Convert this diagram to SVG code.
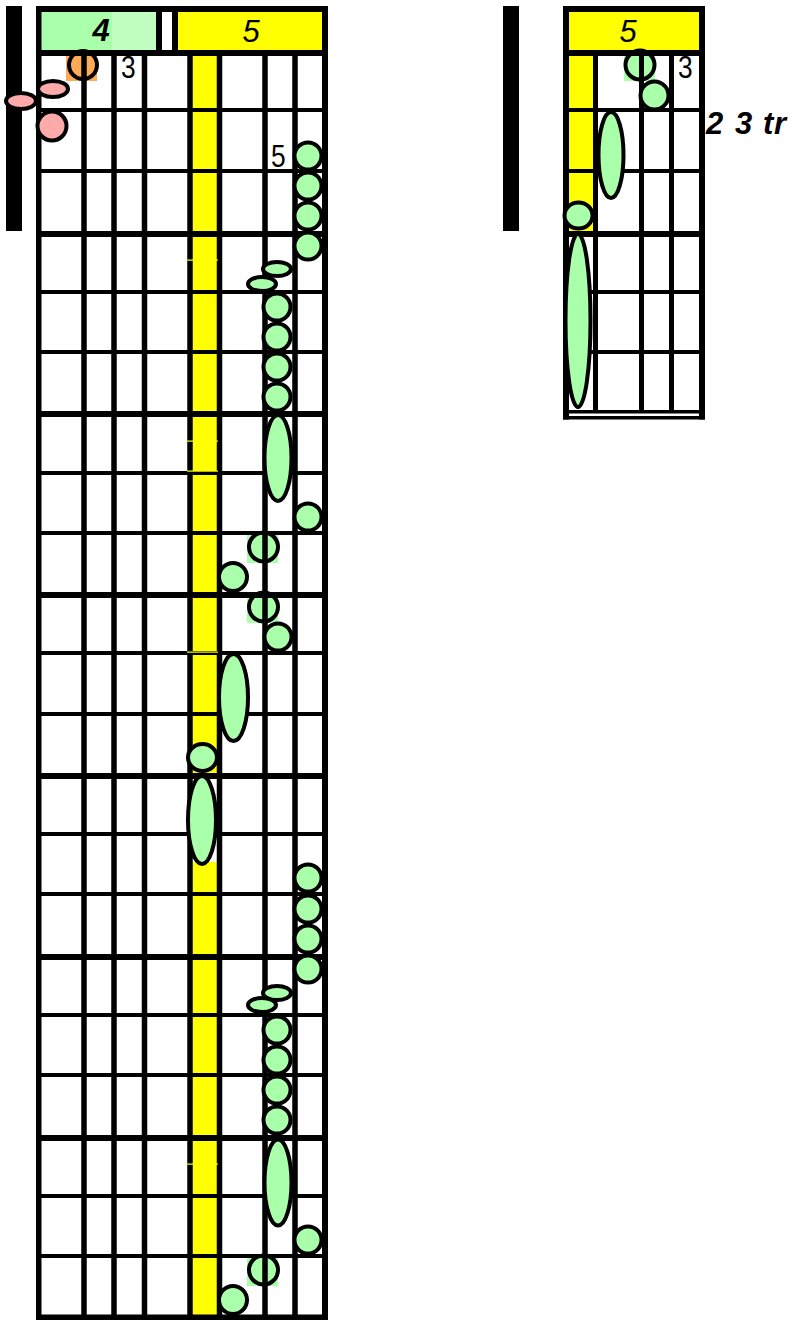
<svg xmlns="http://www.w3.org/2000/svg" width="790" height="1320" viewBox="0 0 790 1320">
<style>
.k{fill:#000}
.y{fill:#ffff00}
.n{fill:#aaffaa;stroke:#000;stroke-width:4}
.pk{fill:#ffaaaa;stroke:#000;stroke-width:4}
.or{fill:#ffaa55;stroke:#000;stroke-width:4}
.sq{fill:#aaffaa}
.t{font-family:"Liberation Sans",Arial,sans-serif;fill:#000}
.fl{font-size:31px}
.hd{font-size:31px;font-style:italic;text-anchor:middle}
</style>
<rect width="790" height="1320" fill="#fff"/>
<g id="left-tab">
  <rect class="k" x="6" y="6" width="16" height="225"/>
  <g id="left-fills">
    <rect x="41" y="12" width="71" height="38" fill="#aaffaa"/>
    <rect x="112" y="12" width="44" height="38" fill="#c0ffc0"/>
    <rect class="y" x="178" y="12" width="144" height="38"/>
    <rect class="y" x="192.5" y="56" width="24.5" height="722"/>
    <rect class="y" x="192.5" y="862" width="24.5" height="454"/>
  </g>
  <g id="left-under-notes">
    <rect x="66" y="50" width="31" height="31" fill="#ffaa55"/>
    <circle id="n-orange" class="or" cx="83" cy="65" r="14"/>
    <rect class="sq" x="247" y="532" width="31" height="31"/>
    <circle id="n-m3c" class="n" cx="263.5" cy="547" r="14.5"/>
    <rect class="sq" x="247" y="592" width="31" height="31"/>
    <circle id="n-m4a" class="n" cx="263.5" cy="607" r="14.5"/>
    <rect class="sq" x="247" y="1255" width="31" height="31"/>
    <circle id="n-m7c" class="n" cx="263.5" cy="1270" r="14.5"/>
  </g>
  <g id="left-grid">
    <rect class="k" x="36" y="6" width="292" height="6"/>
    <rect class="k" x="36" y="6" width="5.5" height="1314"/>
    <rect class="k" x="322" y="6" width="6" height="1314"/>
    <rect class="k" x="36" y="1314.5" width="292" height="5.5"/>
    <rect class="k" x="156" y="12" width="6" height="38"/>
    <rect class="k" x="172" y="12" width="6" height="38"/>
    <rect class="k" x="36" y="50" width="292" height="6"/>
    <rect class="k" x="81.25" y="53" width="5.5" height="1264"/>
    <rect class="k" x="111.25" y="53" width="5.5" height="1264"/>
    <rect class="k" x="141.75" y="53" width="5.5" height="1264"/>
    <rect class="k" x="187.25" y="53" width="5.5" height="1264"/>
    <rect class="k" x="216.75" y="53" width="5.5" height="1264"/>
    <rect class="k" x="262.25" y="53" width="5.5" height="1264"/>
    <rect class="k" x="292.25" y="53" width="5.5" height="1264"/>
    <rect class="k" x="36" y="108" width="292" height="4"/>
    <rect class="k" x="36" y="169" width="292" height="4"/>
    <rect class="k" x="36" y="231" width="292" height="6"/>
    <rect class="k" x="36" y="290" width="292" height="4"/>
    <rect class="k" x="36" y="350" width="292" height="4"/>
    <rect class="k" x="36" y="411" width="292" height="6"/>
    <rect class="k" x="36" y="471" width="292" height="4"/>
    <rect class="k" x="36" y="531" width="292" height="4"/>
    <rect class="k" x="36" y="592" width="292" height="6"/>
    <rect class="k" x="36" y="651" width="292" height="4"/>
    <rect class="k" x="36" y="712" width="292" height="4"/>
    <rect class="k" x="36" y="773" width="292" height="6"/>
    <rect class="k" x="36" y="832" width="292" height="4"/>
    <rect class="k" x="36" y="892" width="292" height="4"/>
    <rect class="k" x="36" y="954" width="292" height="6"/>
    <rect class="k" x="36" y="1013" width="292" height="4"/>
    <rect class="k" x="36" y="1073" width="292" height="4"/>
    <rect class="k" x="36" y="1135" width="292" height="6"/>
    <rect class="k" x="36" y="1194" width="292" height="4"/>
    <rect class="k" x="36" y="1254" width="292" height="4"/>
    <rect class="y" x="187" y="259.5" width="31" height="1.2"/>
    <rect class="y" x="187" y="440.5" width="31" height="1.2"/>
    <rect class="y" x="187" y="470.5" width="31" height="1.2"/>
    <rect class="y" x="187" y="651.5" width="31" height="1.2"/>
    <rect class="y" x="187" y="1163.5" width="31" height="1.2"/>
  </g>
  <g id="left-notes">
    <ellipse id="n-pk1" class="pk" cx="53" cy="89" rx="15" ry="8"/>
    <ellipse id="n-pk2" class="pk" cx="21" cy="101" rx="15" ry="8"/>
    <circle id="n-pk3" class="pk" cx="52" cy="126" r="14.5"/>
    <circle id="n-m1a" class="n" cx="308" cy="156" r="13.5"/>
    <circle id="n-m1b" class="n" cx="308" cy="186" r="13.5"/>
    <circle id="n-m1c" class="n" cx="308" cy="216" r="13.5"/>
    <circle id="n-m2a" class="n" cx="308" cy="246" r="13.5"/>
    <ellipse id="n-m2b" class="n" cx="277" cy="269" rx="14" ry="7"/>
    <ellipse id="n-m2c" class="n" cx="262" cy="284" rx="14" ry="7"/>
    <circle id="n-m2d" class="n" cx="277" cy="307" r="13.5"/>
    <circle id="n-m2e" class="n" cx="277" cy="337" r="13.5"/>
    <circle id="n-m2f" class="n" cx="277" cy="367" r="13.5"/>
    <circle id="n-m2g" class="n" cx="277" cy="397" r="13.5"/>
    <ellipse id="n-m3a" class="n" cx="278" cy="458" rx="13.5" ry="43"/>
    <circle id="n-m3b" class="n" cx="308" cy="517" r="13.5"/>
    <circle id="n-m3d" class="n" cx="233" cy="577" r="14"/>
    <circle id="n-m4b" class="n" cx="278" cy="637" r="13.5"/>
    <ellipse id="n-m4c" class="n" cx="233.5" cy="697.5" rx="14.5" ry="43.5"/>
    <ellipse id="n-m4d" class="n" cx="202.5" cy="757.5" rx="14.5" ry="13.5"/>
    <ellipse id="n-m5a" class="n" cx="202" cy="820" rx="14" ry="44"/>
    <circle id="n-m5b" class="n" cx="308" cy="878" r="13.5"/>
    <circle id="n-m5c" class="n" cx="308" cy="909" r="13.5"/>
    <circle id="n-m5d" class="n" cx="308" cy="939" r="13.5"/>
    <circle id="n-m6a" class="n" cx="308" cy="969" r="13.5"/>
    <ellipse id="n-m6b" class="n" cx="277" cy="993" rx="14" ry="7"/>
    <ellipse id="n-m6c" class="n" cx="262" cy="1005" rx="14" ry="7"/>
    <circle id="n-m6d" class="n" cx="277" cy="1030" r="13.5"/>
    <circle id="n-m6e" class="n" cx="277" cy="1060" r="13.5"/>
    <circle id="n-m6f" class="n" cx="277" cy="1090" r="13.5"/>
    <circle id="n-m6g" class="n" cx="277" cy="1120" r="13.5"/>
    <ellipse id="n-m7a" class="n" cx="278" cy="1182.5" rx="13.5" ry="43"/>
    <circle id="n-m7b" class="n" cx="308" cy="1240" r="13.5"/>
    <circle id="n-m7d" class="n" cx="233" cy="1300" r="14"/>
  </g>
  <g id="left-labels">
    <text class="t hd" x="101" y="41" font-weight="bold" font-size="33">4</text>
    <text class="t hd" x="251" y="42">5</text>
    <text class="t fl" transform="translate(121,78) scale(0.85,1)">3</text>
    <text class="t fl" transform="translate(271,167) scale(0.85,1)">5</text>
  </g>
</g>
<g id="right-tab">
  <rect class="k" x="503" y="6" width="16" height="225"/>
  <g id="right-fills">
    <rect class="y" x="569" y="12" width="130" height="38"/>
    <rect class="y" x="569" y="56" width="24.5" height="175"/>
  </g>
  <g id="right-under-notes">
    <rect class="sq" x="624" y="50" width="31" height="31"/>
    <circle id="r-n1" class="n" cx="640" cy="65" r="14.5"/>
  </g>
  <g id="right-grid">
    <rect class="k" x="563" y="6" width="142" height="6"/>
    <rect class="k" x="563" y="6" width="6" height="413.5"/>
    <rect class="k" x="699" y="6" width="6" height="413.5"/>
    <rect class="k" x="563" y="410" width="142" height="3.5"/>
    <rect class="k" x="563" y="416" width="142" height="3.5"/>
    <rect class="k" x="563" y="50" width="142" height="6"/>
    <rect class="k" x="593" y="53" width="5" height="358"/>
    <rect class="k" x="639" y="53" width="5" height="358"/>
    <rect class="k" x="669" y="53" width="5" height="358"/>
    <rect class="k" x="563" y="108" width="142" height="4"/>
    <rect class="k" x="563" y="169" width="142" height="4"/>
    <rect class="k" x="563" y="231" width="142" height="6"/>
    <rect class="k" x="563" y="290" width="142" height="4"/>
    <rect class="k" x="563" y="350" width="142" height="4"/>
  </g>
  <g id="right-notes">
    <circle id="r-n2" class="n" cx="654.5" cy="95.5" r="14"/>
    <ellipse id="r-n3" class="n" cx="611" cy="155" rx="12.5" ry="43"/>
    <ellipse id="r-n4" class="n" cx="578.5" cy="215.5" rx="14" ry="13"/>
    <ellipse id="r-n5" class="n" cx="578" cy="320.5" rx="12.5" ry="86.5"/>
  </g>
  <g id="right-labels">
    <text class="t hd" x="628" y="42">5</text>
    <text class="t fl" transform="translate(678,78) scale(0.85,1)">3</text>
    <text class="t" font-size="31" font-weight="bold" font-style="italic" x="706 730 735 760 763 774" y="134">2 3 tr</text>
  </g>
</g>
<g id="connectors"/>
</svg>
